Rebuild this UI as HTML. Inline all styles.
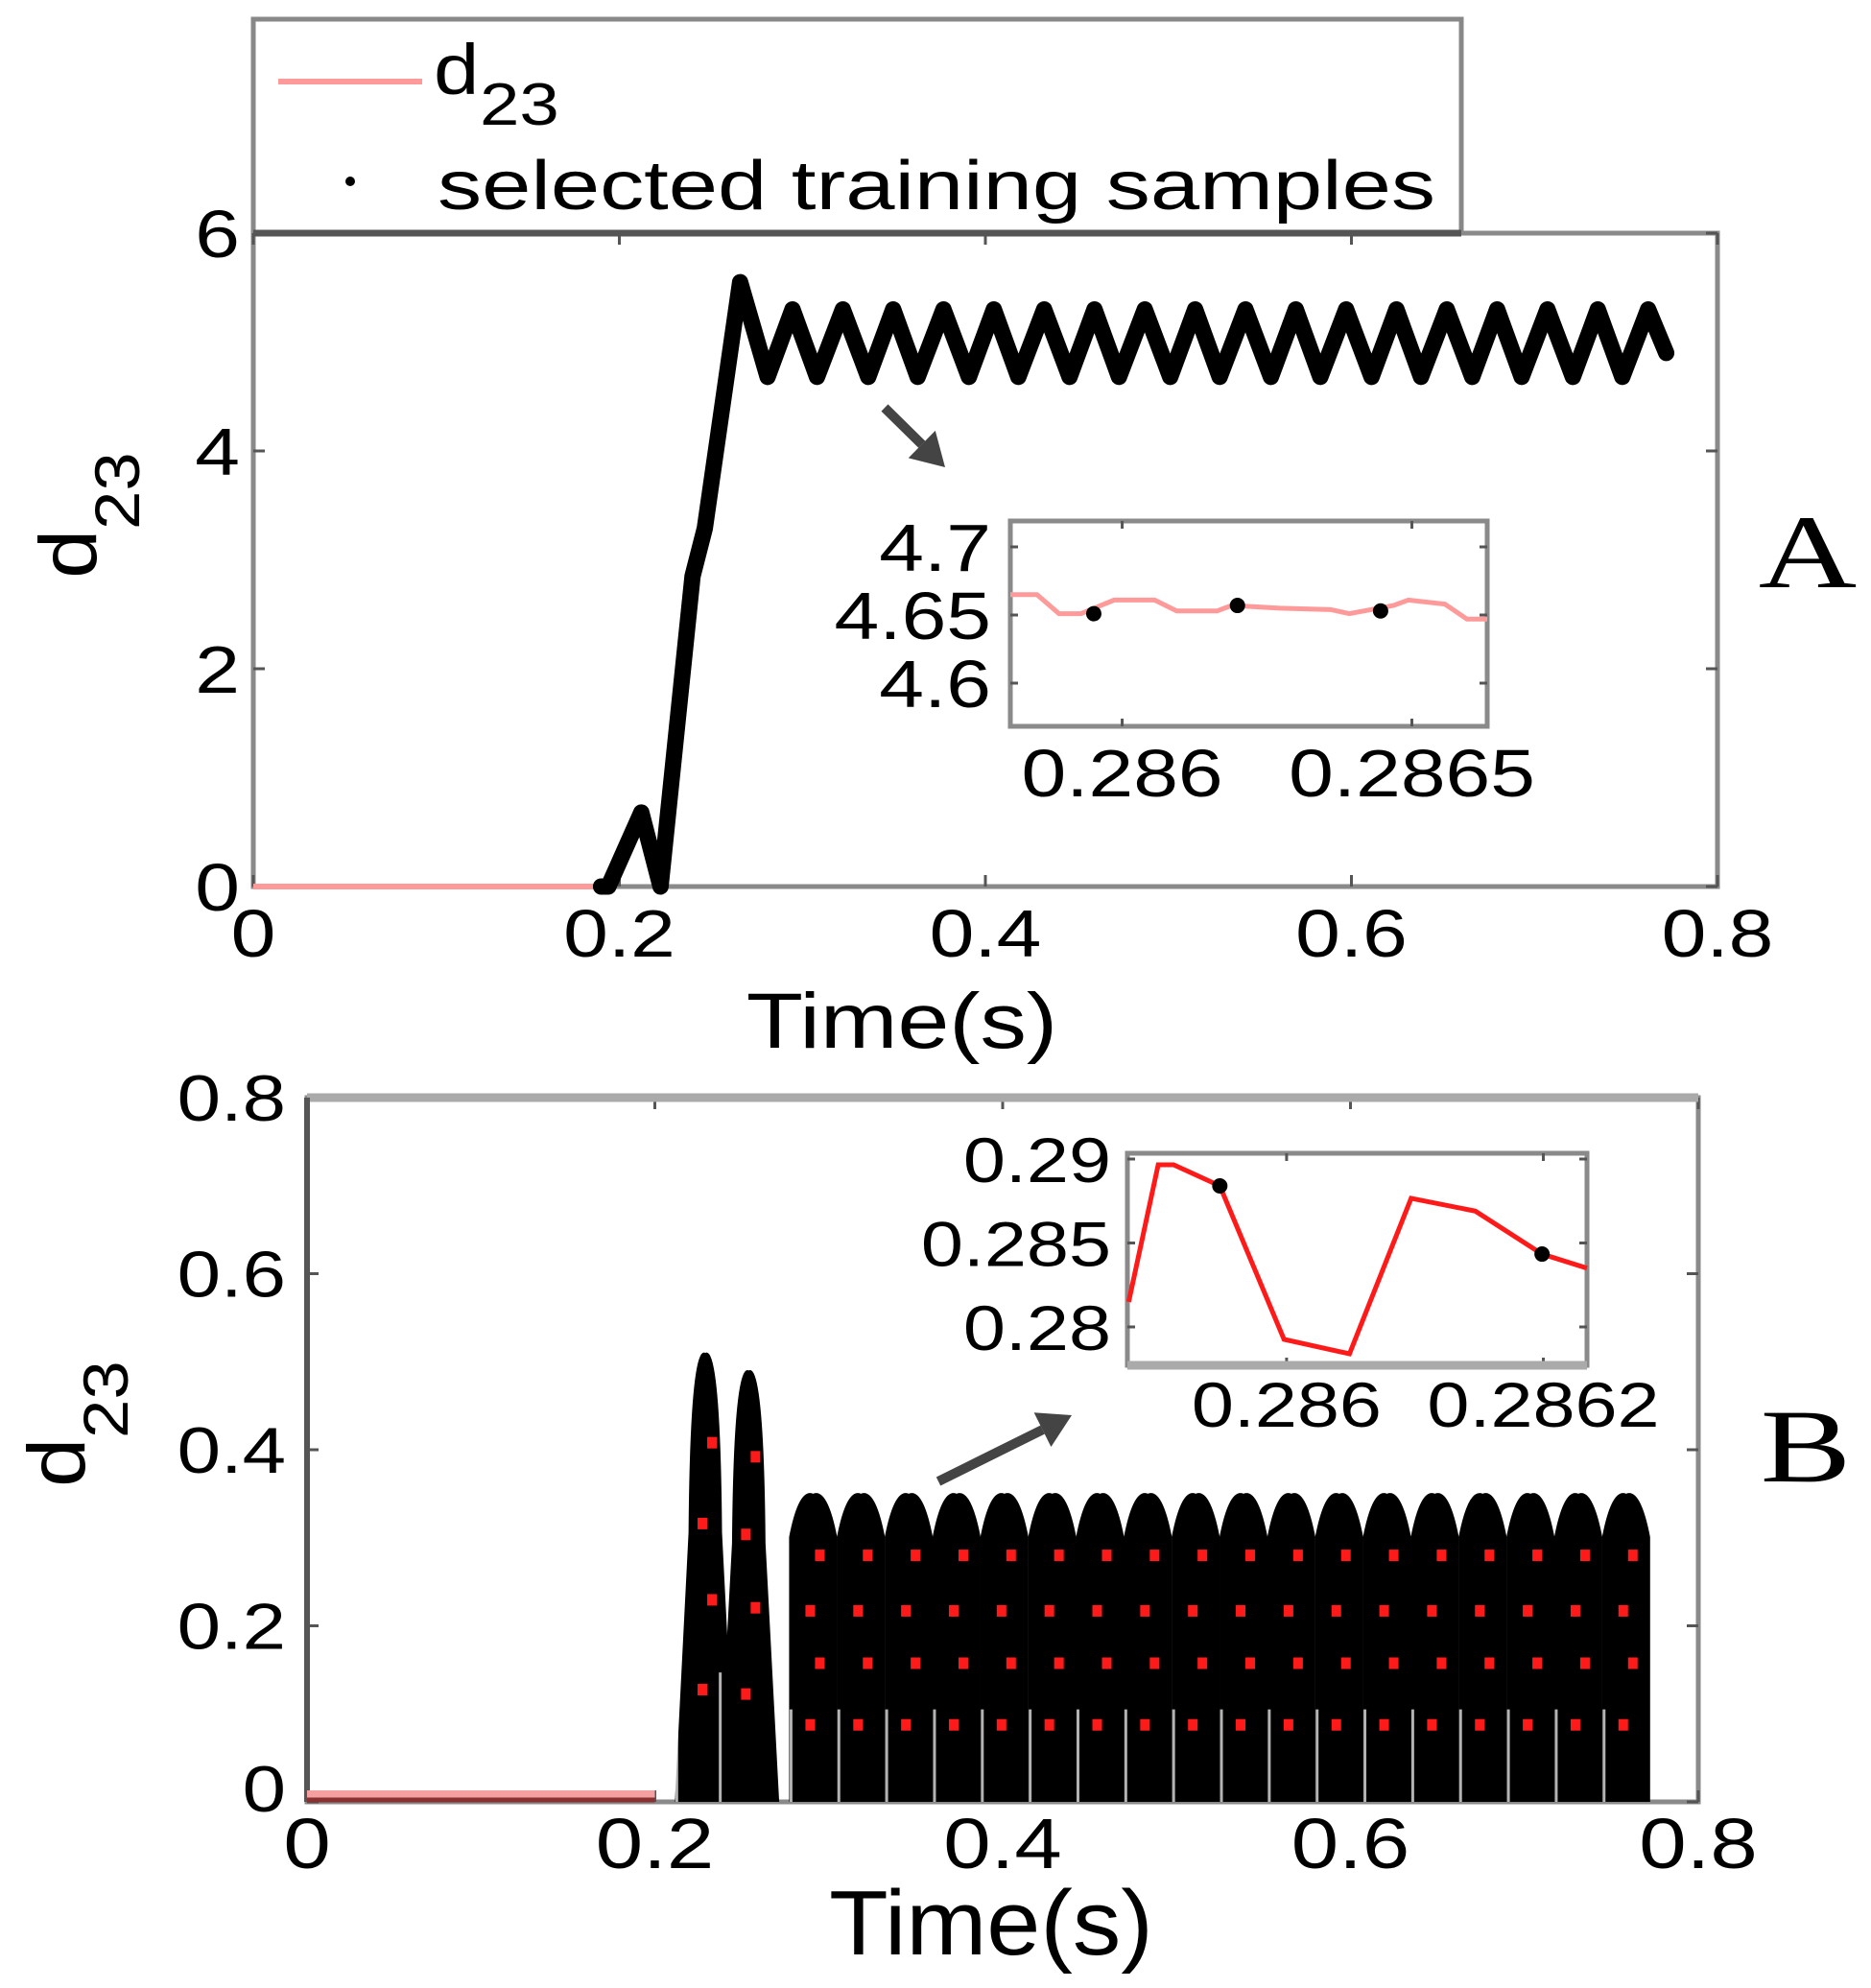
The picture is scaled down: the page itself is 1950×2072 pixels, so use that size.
<!DOCTYPE html>
<html><head><meta charset="utf-8"><style>
html,body{margin:0;padding:0;background:#fff;}
svg{display:block;font-family:"Liberation Sans",sans-serif;}
</style></head><body>
<svg id="fig" width="1950" height="2072" viewBox="0 0 1950 2072" xmlns="http://www.w3.org/2000/svg">
<g id="panelA"></g>
<g id="panelB"></g>
</svg>
<script>
// ===== Panel A data =====
const aTimes = [0, 0.19, 0.194, 0.212, 0.2225, 0.240, 0.2467, 0.266, 0.281,
  0.2946, 0.308, 0.3221, 0.336, 0.3496, 0.363, 0.3771, 0.391, 0.4046, 0.418, 0.4321, 0.446,
  0.4596, 0.473, 0.4871, 0.501, 0.5146, 0.528, 0.5421, 0.556, 0.5696, 0.583, 0.5971, 0.611,
  0.6246, 0.638, 0.6521, 0.666, 0.6796, 0.693, 0.7071, 0.721, 0.7346, 0.748, 0.7621, 0.772];
const aValues = [0, 0, 0, 0.68, 0, 2.85, 3.29, 5.55, 4.68,
  5.3, 4.68, 5.3, 4.68, 5.3, 4.68, 5.3, 4.68, 5.3, 4.68, 5.3, 4.68,
  5.3, 4.68, 5.3, 4.68, 5.3, 4.68, 5.3, 4.68, 5.3, 4.68, 5.3, 4.68,
  5.3, 4.68, 5.3, 4.68, 5.3, 4.68, 5.3, 4.68, 5.3, 4.68, 5.3, 4.9];
const aXTicks = [0, 0.2, 0.4, 0.6, 0.8];
const aXTickLabels = ["0", "0.2", "0.4", "0.6", "0.8"];
const aYTicks = [0, 2, 4, 6];
const aYTickLabels = ["0", "2", "4", "6"];
// Inset A
const aiTimes = [0.285807, 0.285853, 0.285891, 0.285929, 0.285986, 0.286056, 0.286094, 0.286164, 0.286189, 0.286272, 0.286360, 0.286392, 0.286468, 0.286494, 0.286557, 0.286595, 0.286630];
const aiValues = [4.665, 4.665, 4.651, 4.651, 4.661, 4.661, 4.653, 4.653, 4.657, 4.655, 4.654, 4.651, 4.657, 4.661, 4.658, 4.647, 4.647];
const aiSampleTimes = [0.285951, 0.286199, 0.286446];
const aiSampleValues = [4.651, 4.657, 4.653];
const aiXTicks = [0.286, 0.2865];
const aiXTickLabels = ["0.286", "0.2865"];
const aiYTicks = [4.6, 4.65, 4.7];
const aiYTickLabels = ["4.6", "4.65", "4.7"];

// ===== Panel B data =====
const bBumpTimes = [0.229, 0.254, 0.291, 0.3185, 0.346, 0.3735, 0.401, 0.4285, 0.456, 0.4835, 0.511, 0.5385, 0.566, 0.5935, 0.621, 0.6485, 0.676, 0.7035, 0.731, 0.7585];
const bBumpPeaks = [0.51, 0.49, 0.35, 0.35, 0.35, 0.35, 0.35, 0.35, 0.35, 0.35, 0.35, 0.35, 0.35, 0.35, 0.35, 0.35, 0.35, 0.35, 0.35, 0.35];
const bXTicks = [0, 0.2, 0.4, 0.6, 0.8];
const bXTickLabels = ["0", "0.2", "0.4", "0.6", "0.8"];
const bYTicks = [0, 0.2, 0.4, 0.6, 0.8];
const bYTickLabels = ["0", "0.2", "0.4", "0.6", "0.8"];
// Inset B
const biTimes = [0.285877, 0.2859, 0.285912, 0.285948, 0.285998, 0.286049, 0.286097, 0.286147, 0.286199, 0.286234];
const biValues = [0.28149, 0.28966, 0.28966, 0.2884, 0.27926, 0.2784, 0.28766, 0.2869, 0.28434, 0.2835];
const biSampleTimes = [0.285948, 0.286199];
const biSampleValues = [0.2884, 0.28434];
const biXTicks = [0.286, 0.2862];
const biXTickLabels = ["0.286", "0.2862"];
const biYTicks = [0.28, 0.285, 0.29];
const biYTickLabels = ["0.28", "0.285", "0.29"];

const NS = "http://www.w3.org/2000/svg";
function mk(tag, attrs, parent) {
  const e = document.createElementNS(NS, tag);
  for (const k in attrs) e.setAttribute(k, attrs[k]);
  parent.appendChild(e);
  return e;
}
function lin(d0, d1, r0, r1) { return v => r0 + (v - d0) / (d1 - d0) * (r1 - r0); }
function txt(parent, s, x, y, size, anchor, sx, family) {
  const t = mk("text", {x: 0, y: 0, "font-size": size, "text-anchor": anchor, fill: "#000",
    transform: `translate(${x},${y}) scale(${sx},1)`}, parent);
  if (family) t.setAttribute("font-family", family);
  t.textContent = s;
  return t;
}
function frame(g, L, T, R, B, xs, xt, ys, yt, tl, col) {
  const box = mk("rect", {x: L, y: T, width: R - L, height: B - T, fill: "none", stroke: col, "stroke-width": 5}, g);
  
  
  xt.forEach(v => {
    const x = xs(v);
    mk("line", {x1: x, y1: B, x2: x, y2: B - tl, stroke: "#555", "stroke-width": 3}, g);
    mk("line", {x1: x, y1: T, x2: x, y2: T + tl, stroke: "#555", "stroke-width": 3}, g);
  });
  yt.forEach(v => {
    const y = ys(v);
    mk("line", {x1: L, y1: y, x2: L + tl, y2: y, stroke: "#555", "stroke-width": 3}, g);
    mk("line", {x1: R, y1: y, x2: R - tl, y2: y, stroke: "#555", "stroke-width": 3}, g);
  });
}
function arrow(g, x1, y1, x2, y2, name) {
  const a = Math.atan2(y2 - y1, x2 - x1), L = 34, W = 20;
  const bx = x2 - L * Math.cos(a), by = y2 - L * Math.sin(a);
  const grp = mk("g", {}, g);
  
  
  mk("line", {x1: x1, y1: y1, x2: bx, y2: by, stroke: "#444", "stroke-width": 10}, grp);
  mk("polygon", {points: `${x2},${y2} ${bx + W * Math.sin(a)},${by - W * Math.cos(a)} ${bx - W * Math.sin(a)},${by + W * Math.cos(a)}`, fill: "#444"}, grp);
}

// ================= PANEL A =================
(function () {
  const g = document.getElementById("panelA");
  const L = 264, R = 1790, T = 243, B = 924;
  const xs = lin(0, 0.8, L, R), ys = lin(0, 6, B, T);
  // legend
  const leg = mk("g", {}, g);
  
  
  mk("rect", {x: L, y: 20, width: 1523 - L, height: T - 20, fill: "#fff", stroke: "#888", "stroke-width": 5}, leg);
  const l1 = mk("line", {x1: 290, y1: 85, x2: 440, y2: 85, stroke: "#ff9a9a", "stroke-width": 6}, leg);
  
  
  const t1 = txt(leg, "d", 452, 98, 74, "start", 1.15);
  
  
  txt(leg, "23", 500, 130, 62, "start", 1.2);
  const d1 = mk("circle", {cx: 365, cy: 189, r: 5, fill: "#000"}, leg);
  
  
  const t2 = mk("text", {x: 456, y: 218, "font-size": 72, textLength: 1040, lengthAdjust: "spacingAndGlyphs", fill: "#000"}, leg);
  t2.textContent = "selected training samples";
  
  

  frame(g, L, T, R, B, xs, aXTicks, ys, aYTicks, 12, "#8a8a8a");
  mk("line", {x1: L, y1: T, x2: 1523, y2: T, stroke: "#555", "stroke-width": 7}, g);

  // red series line
  const pts = aTimes.map((t, i) => `${xs(t)},${ys(aValues[i])}`).join(" ");
  const red = mk("polyline", {points: pts, fill: "none", stroke: "#ff9a9a", "stroke-width": 6}, g);
  
  
  // samples (dense -> thick black)
  const sp = aTimes.map((t, i) => [t, aValues[i]]).filter(p => p[0] >= 0.19);
  const blk = mk("polyline", {points: sp.map(p => `${xs(p[0])},${ys(p[1])}`).join(" "), fill: "none", stroke: "#000", "stroke-width": 17, "stroke-linejoin": "round", "stroke-linecap": "round"}, g);
  
  

  aXTicks.forEach((v, i) => {
    const t = txt(g, aXTickLabels[i], xs(v), 997, 70, "middle", 1.2);
    
    
  });
  aYTicks.forEach((v, i) => {
    const t = txt(g, aYTickLabels[i], 250, ys(v) + 25, 70, "end", 1.2);
    
    
  });
  const xt = txt(g, "Time(s)", 940, 1092, 82, "middle", 1.18);
  
  
  const yl = mk("g", {transform: "translate(100,568) rotate(-90)"}, g);
  
  
  txt(yl, "d", -35, 0, 84, "start", 1.1);
  txt(yl, "23", 16, 45, 66, "start", 1.1);
  const pa = txt(g, "A", 1884, 612, 109, "middle", 1.3, '"Liberation Serif", serif');
  
  

  arrow(g, 922, 425, 985, 487, 'zoom-arrow-a');

  // inset
  const ig = mk("g", {}, g);
  
  
  const iL = 1053, iR = 1550, iT = 543, iB = 757;
  const ixs = lin(0.285807, 0.28663, iL, iR), iys = lin(4.6, 4.7, 712, 570);
  mk("rect", {x: iL, y: iT, width: iR - iL, height: iB - iT, fill: "#fff"}, ig);
  frame(ig, iL, iT, iR, iB, ixs, aiXTicks, iys, aiYTicks, 8, "#8a8a8a");
  const il = mk("polyline", {points: aiTimes.map((t, i) => `${ixs(t)},${iys(aiValues[i])}`).join(" "), fill: "none", stroke: "#ff9a9a", "stroke-width": 5}, ig);
  
  
  aiSampleTimes.forEach((t, i) => {
    const c = mk("circle", {cx: ixs(t), cy: iys(aiSampleValues[i]), r: 8, fill: "#000"}, ig);
    
    
  });
  aiXTicks.forEach((v, i) => { txt(ig, aiXTickLabels[i], ixs(v), 830, 70, "middle", 1.2); });
  aiYTicks.forEach((v, i) => { txt(ig, aiYTickLabels[i], 1033, iys(v) + 25, 70, "end", 1.2); });
})();

// ================= PANEL B =================
(function () {
  const g = document.getElementById("panelB");
  const L = 320, R = 1770, T = 1144, B = 1878;
  const xs = lin(0, 0.8, L, R), ys = lin(0, 0.8, B, T);
  frame(g, L, T, R, B, xs, bXTicks, ys, bYTicks, 12, "#8a8a8a");
  mk("line", {x1: L, y1: T, x2: R, y2: T, stroke: "#aaa", "stroke-width": 9}, g);
  mk("line", {x1: L, y1: T, x2: L, y2: B, stroke: "#555", "stroke-width": 6}, g);
  const base = mk("g", {}, g);
  
  
  mk("line", {x1: xs(0), y1: B - 8, x2: xs(0.2), y2: B - 8, stroke: "#f4a0a0", "stroke-width": 8}, base);
  mk("line", {x1: xs(0), y1: B - 2, x2: xs(0.2), y2: B - 2, stroke: "#8a3030", "stroke-width": 5}, base);

  bBumpTimes.forEach((t, i) => {
    const p = bBumpPeaks[i];
    const tall = i < 2;
    const hw = tall ? 0.0175 : 0.0138;
    let d;
    if (tall) {
      d = `M${xs(t - hw)},${ys(0)} L${xs(t - hw * 0.55)},${ys(p * 0.6)} Q${xs(t - hw * 0.5)},${ys(p * 1.02)} ${xs(t)},${ys(p)} Q${xs(t + hw * 0.5)},${ys(p * 1.02)} ${xs(t + hw * 0.55)},${ys(p * 0.6)} L${xs(t + hw)},${ys(0)} Z`;
    } else {
      d = `M${xs(t - hw)},${ys(0)} L${xs(t - hw)},${ys(p * 0.86)} Q${xs(t - hw * 0.6)},${ys(p * 1.02)} ${xs(t)},${ys(p)} Q${xs(t + hw * 0.6)},${ys(p * 1.02)} ${xs(t + hw)},${ys(p * 0.86)} L${xs(t + hw)},${ys(0)} Z`;
    }
    const bump = mk("path", {d: d, fill: "#000"}, g);
    
    
    // red line peeking through
    [0.25, 0.45, 0.62, 0.8].forEach((f, k) => {
      mk("rect", {x: xs(t) - 8 + (k % 2) * 10, y: ys(p * f) - 6, width: 10, height: 12, fill: "#ff1a1a"}, g);
    });
    mk("line", {x1: xs(t - hw) + 2, y1: ys(0), x2: xs(t - hw) + 2, y2: ys(p * 0.3), stroke: "#fff", "stroke-width": 3, opacity: 0.7}, g);
  });

  bXTicks.forEach((v, i) => {
    const t = txt(g, bXTickLabels[i], xs(v), 1947, 74, "middle", 1.2);
    
    
  });
  bYTicks.forEach((v, i) => {
    const yy = i === 0 ? ys(v) + 10 : ys(v) + 24;
    const t = txt(g, bYTickLabels[i], 298, yy, 68, "end", 1.2);
    
    
  });
  const xt = txt(g, "Time(s)", 1033, 2037, 96, "middle", 1.05);
  
  
  const yl = mk("g", {transform: "translate(88,1505) rotate(-90)"}, g);
  
  
  txt(yl, "d", -45, 0, 84, "start", 1.1);
  txt(yl, "23", 6, 45, 66, "start", 1.1);
  const pb = txt(g, "B", 1882, 1544, 109, "middle", 1.3, '"Liberation Serif", serif');
  
  

  arrow(g, 978, 1544, 1117, 1475, 'zoom-arrow-b');

  const ig = mk("g", {}, g);
  
  
  const iL = 1175, iR = 1654, iT = 1202, iB = 1423;
  const ixs = lin(0.285876, 0.286234, iL, iR), iys = lin(0.28, 0.29, 1383, 1208);
  mk("rect", {x: iL, y: iT, width: iR - iL, height: iB - iT, fill: "#fff"}, ig);
  frame(ig, iL, iT, iR, iB, ixs, biXTicks, iys, biYTicks, 8, "#8a8a8a");
  mk("line", {x1: iL, y1: iB, x2: iR, y2: iB, stroke: "#aaa", "stroke-width": 9}, ig);
  const il = mk("polyline", {points: biTimes.map((t, i) => `${ixs(t)},${iys(biValues[i])}`).join(" "), fill: "none", stroke: "#ff1a1a", "stroke-width": 5}, ig);
  
  
  biSampleTimes.forEach((t, i) => {
    const c = mk("circle", {cx: ixs(t), cy: iys(biSampleValues[i]), r: 8, fill: "#000"}, ig);
    
    
  });
  biXTicks.forEach((v, i) => { txt(ig, biXTickLabels[i], ixs(v), 1487, 66, "middle", 1.2); });
  biYTicks.forEach((v, i) => { txt(ig, biYTickLabels[i], 1158, iys(v) + 24, 66, "end", 1.2); });
})();
</script>
</body></html>
